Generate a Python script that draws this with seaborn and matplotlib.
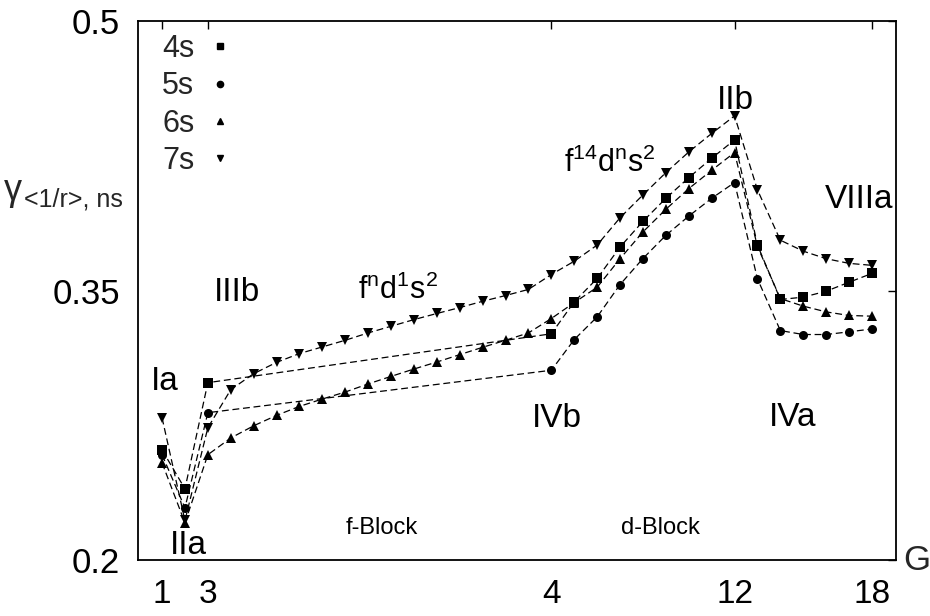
import matplotlib
matplotlib.use("Agg")
import matplotlib.pyplot as plt
from matplotlib.lines import Line2D
import seaborn as sns
import pandas as pd

# Positions along the period: groups 1-3, then the 14 f-block columns, then groups 4-18
pos_main = [0, 1, 2, 17, 18, 19, 20, 21, 22, 23, 24, 25, 26, 27, 28, 29, 30, 31]
pos_full = list(range(32))

# gamma_<1/r> for the ns shells
gamma_4s = [0.2613, 0.2396, 0.2987, 0.3259, 0.3437, 0.3567, 0.3742, 0.3885, 0.4013,
            0.4128, 0.4236, 0.4338, 0.3753, 0.3450, 0.3463, 0.3496, 0.3546, 0.3595]
gamma_5s = [0.2586, 0.2290, 0.2820, 0.3056, 0.3227, 0.3353, 0.3533, 0.3678, 0.3807,
            0.3914, 0.4013, 0.4101, 0.3565, 0.3277, 0.3255, 0.3255, 0.3270, 0.3286]
gamma_6s = [0.2541, 0.2207, 0.2586,
            0.2679, 0.2747, 0.2805, 0.2855, 0.2896, 0.2935, 0.2980, 0.3022, 0.3063,
            0.3102, 0.3143, 0.3184, 0.3223, 0.3264,
            0.3344, 0.3433, 0.3518, 0.3677, 0.3826, 0.3952, 0.4067, 0.4169, 0.4268,
            0.3745, 0.3455, 0.3413, 0.3381, 0.3361, 0.3357]
gamma_7s = [0.2792, 0.2220, 0.2736,
            0.2948, 0.3037, 0.3100, 0.3149, 0.3186, 0.3223, 0.3264, 0.3301, 0.3338,
            0.3372, 0.3405, 0.3440, 0.3472, 0.3506,
            0.3589, 0.3663, 0.3753, 0.3905, 0.4032, 0.4156, 0.4271, 0.4374, 0.4472,
            0.4060, 0.3780, 0.3719, 0.3677, 0.3651, 0.3640]

shells = ["4s", "5s", "6s", "7s"]
group_ticks = [0, 2, 17, 25, 31]
group_labels = ["1", "3", "4", "12", "18"]
y_ticks = [0.2, 0.35, 0.5]
y_labels = ["0.2", "0.35", "0.5"]

df = pd.concat([
    pd.DataFrame({"pos": pos_main, "gamma": gamma_4s, "shell": "4s"}),
    pd.DataFrame({"pos": pos_main, "gamma": gamma_5s, "shell": "5s"}),
    pd.DataFrame({"pos": pos_full, "gamma": gamma_6s, "shell": "6s"}),
    pd.DataFrame({"pos": pos_full, "gamma": gamma_7s, "shell": "7s"}),
], ignore_index=True)

sns.set_style("white")
plt.rcParams["font.family"] = ["Liberation Sans Narrow", "Liberation Sans", "DejaVu Sans"]
plt.rcParams["mathtext.fontset"] = "custom"
plt.rcParams["mathtext.rm"] = "Liberation Sans"
plt.rcParams["mathtext.it"] = "Liberation Sans"
plt.rcParams["mathtext.default"] = "regular"

W, H = 930, 616
fig = plt.figure(figsize=(W / 100, H / 100), dpi=100)
ax = fig.add_axes([138 / W, 1 - 560 / H, (896 - 138) / W, (560 - 21) / H])

marker_map = {"4s": "s", "5s": "o", "6s": "^", "7s": "v"}
dash_map = {s: (5.5, 3) for s in shells}
sns.lineplot(data=df, x="pos", y="gamma", style="shell", style_order=shells,
             markers=marker_map, dashes=dash_map, color="black", linewidth=0.9,
             markersize=6.5, markeredgewidth=0, markeredgecolor="black",
             legend=False, ax=ax, sort=True)

ax.set_xlim(-1.05, 32.05)
ax.set_ylim(0.2, 0.5)
ax.set_xticks(group_ticks)
ax.set_xticklabels(group_labels)
ax.set_yticks(y_ticks)
ax.set_yticklabels(y_labels)
ax.set_xlabel("")
ax.set_ylabel("")
ax.tick_params(axis="both", direction="in", length=6, width=1, colors="black",
               labelsize=25, top=True, right=True)
ax.tick_params(axis="x", pad=14, labelsize=24)
ax.tick_params(axis="y", pad=13)
for sp in ax.spines.values():
    sp.set_color("black")
    sp.set_linewidth(1.3)

# Legend: label first, marker after it
handles = [Line2D([], [], linestyle="none", marker=marker_map[s], color="black",
                  markersize=ms) for s, ms in zip(shells, [5.0, 4.5, 4.0, 4.0])]
ax.legend(handles, shells, loc="upper left", bbox_to_anchor=(24 / 758, 1 - 13 / 539),
          frameon=False, markerfirst=False, fontsize=22, handlelength=1.0,
          handletextpad=0.35, labelspacing=0.24, borderpad=0, borderaxespad=0)

# Group and configuration annotations
notes = [
    ("Ia", 0.13, 0.2996, 24), ("IIa", 1.14, 0.2081, 24), ("IIIb", 3.28, 0.3490, 24),
    (r"$f^{n}d^{1}s^{2}$", 10.3, 0.3500, 22), ("IVb", 17.25, 0.2789, 24),
    (r"$f^{14}d^{n}s^{2}$", 19.57, 0.4209, 22), ("IIb", 25.02, 0.4560, 24),
    ("VIIIa", 30.44, 0.4009, 24), ("IVa", 27.55, 0.2794, 24),
    ("f-Block", 9.6, 0.2176, 17), ("d-Block", 21.75, 0.2176, 17),
]
for txt, x, y, fs in notes:
    ax.text(x, y, txt, ha="center", va="center", fontsize=fs, color="black")

# Axis titles
fig.text(4 / W, 1 - 190 / H, "γ", fontsize=26, ha="left", va="center")
fig.text(24 / W, 1 - 199 / H, "<1/r>, ns", fontsize=18, ha="left", va="center")
fig.text(903 / W, 1 - 560 / H, "G", fontsize=25, ha="left", va="center")

fig.savefig("out.png", dpi=100)
